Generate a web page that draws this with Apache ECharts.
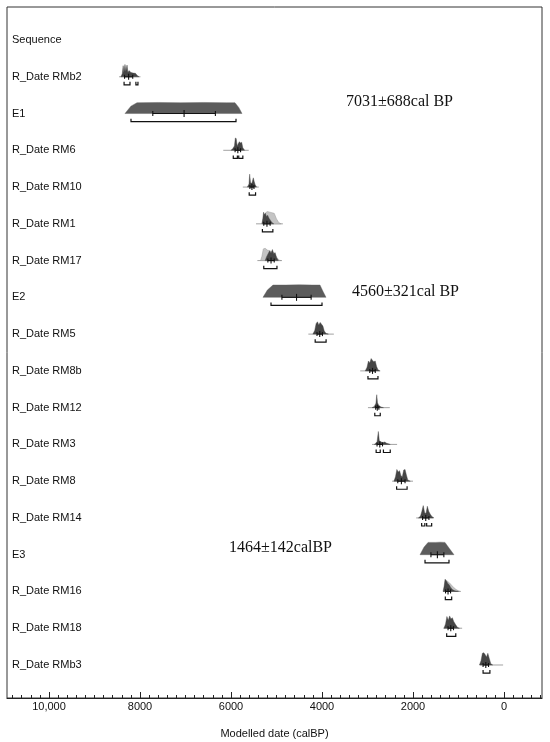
<!DOCTYPE html>
<html><head><meta charset="utf-8">
<script src="https://cdn.jsdelivr.net/npm/echarts@6.0.0/dist/echarts.min.js"></script>
<style>html,body{margin:0;padding:0;background:#fff}#c{width:550px;height:742px}</style>
</head><body><div id="c"></div>
<script>
// ---------- categories / ticks ----------
const rowLabels = ['Sequence','R_Date RMb2','E1','R_Date RM6','R_Date RM10','R_Date RM1','R_Date RM17','E2',
  'R_Date RM5','R_Date RM8b','R_Date RM12','R_Date RM3','R_Date RM8','R_Date RM14','E3','R_Date RM16','R_Date RM18','R_Date RMb3'];
const rowValues = [0,1,2,3,4,5,6,7,8,9,10,11,12,13,14,15,16,17];
const xTickValues = [10000, 8000, 6000, 4000, 2000, 0];
const xTickLabels = ['10,000', '8000', '6000', '4000', '2000', '0'];
const minorTickValues = [];
for (let v = 10800; v >= -800; v -= 200) minorTickValues.push(v);

// ---------- R_Date posteriors [calBP, relative height] ----------
const rmb2Post = [[8420,0],[8390,0.25],[8370,0.9],[8355,0.35],[8330,1.0],[8310,0.45],[8285,0.95],[8265,0.35],[8240,0.5],[8200,0.35],[8150,0.3],[8100,0.28],[8060,0.1],[8020,0]];
const rmb2Tail = [8460, 7990];
const rmb2Stat = [8250, 90];
const rmb2Range = [[8350,8220],[8090,8045]];

const rm6Post = [[6000,0],[5960,0.15],[5925,0.35],[5905,1.0],[5885,0.95],[5865,0.35],[5840,0.55],[5815,0.7],[5790,0.6],[5765,0.65],[5740,0.2],[5700,0]];
const rm6Tail = [6170, 5610];
const rm6Stat = [5850, 60];
const rm6Range = [[5950,5860],[5830,5740]];

const rm10Post = [[5640,0],[5605,0.25],[5590,1.05],[5570,0.35],[5540,0.3],[5510,0.75],[5490,0.45],[5470,0.2],[5440,0]];
const rm10Tail = [5740, 5390];
const rm10Stat = [5540, 45];
const rm10Range = [[5600,5460]];

const rm1Prior = [[5320,0],[5280,0.5],[5240,0.9],[5200,1.0],[5150,0.95],[5100,0.9],[5050,0.85],[5000,0.4],[4950,0.1],[4900,0]];
const rm1Post = [[5320,0],[5300,0.45],[5285,0.95],[5265,0.75],[5245,0.85],[5220,0.6],[5195,0.7],[5165,0.45],[5135,0.3],[5100,0.1],[5060,0]];
const rm1Tail = [5450, 4860];
const rm1Stat = [5210, 70];
const rm1Range = [[5310,5080]];

const rm17Prior = [[5350,0],[5320,0.35],[5290,0.95],[5250,1.0],[5200,0.85],[5150,0.8],[5100,0.7],[5050,0.6],[5000,0.3],[4950,0.05],[4900,0]];
const rm17Post = [[5250,0],[5220,0.3],[5185,0.55],[5150,0.8],[5120,0.6],[5090,0.9],[5060,0.55],[5030,0.65],[5000,0.25],[4960,0]];
const rm17Tail = [5420, 4880];
const rm17Stat = [5120, 70];
const rm17Range = [[5280,4990]];

const rm5Post = [[4200,0],[4160,0.3],[4130,0.85],[4100,1.0],[4070,0.75],[4040,0.95],[4010,0.8],[3980,0.65],[3950,0.25],[3910,0.05],[3860,0]];
const rm5Tail = [4300, 3740];
const rm5Stat = [4050, 60];
const rm5Range = [[4150,3910]];

const rm8bPost = [[3050,0],[3010,0.3],[2980,0.8],[2950,0.65],[2920,1.0],[2890,0.85],[2860,0.75],[2830,0.8],[2800,0.35],[2770,0.1],[2730,0]];
const rm8bTail = [3160, 2720];
const rm8bStat = [2890, 60];
const rm8bRange = [[2990,2770]];

const rm12Post = [[2900,0],[2850,0.1],[2815,0.35],[2797,1.05],[2780,0.4],[2750,0.15],[2700,0.05],[2650,0]];
const rm12Tail = [2990, 2510];
const rm12Stat = [2785, 35];
const rm12Range = [[2840,2720]];

const rm3Post = [[2850,0],[2790,0.2],[2762,1.05],[2740,0.3],[2700,0.2],[2660,0.15],[2620,0.2],[2580,0.1],[2540,0.05],[2500,0]];
const rm3Tail = [2900, 2350];
const rm3Stat = [2730, 60];
const rm3Range = [[2810,2720],[2650,2500]];

const rm8Post = [[2420,0],[2385,0.35],[2355,0.95],[2325,0.75],[2295,0.85],[2265,0.45],[2235,0.35],[2205,0.9],[2175,0.95],[2145,0.5],[2115,0.1],[2060,0]];
const rm8Tail = [2460, 2000];
const rm8Stat = [2255, 80];
const rm8Range = [[2360,2130]];

const rm14Post = [[1880,0],[1835,0.15],[1805,0.55],[1775,1.0],[1745,0.45],[1715,0.35],[1685,0.95],[1655,0.55],[1620,0.3],[1580,0.1],[1540,0]];
const rm14Tail = [1930, 1560];
const rm14Stat = [1720, 70];
const rm14Range = [[1810,1740],[1700,1590]];

const rm16Prior = [[1320,0],[1290,0.9],[1250,0.85],[1200,0.7],[1150,0.5],[1100,0.3],[1050,0.15],[1000,0.05],[950,0]];
const rm16Post = [[1340,0],[1315,0.45],[1295,1.0],[1265,0.85],[1235,0.65],[1205,0.55],[1175,0.35],[1135,0.15],[1080,0.05],[1000,0]];
const rm16Tail = [1340, 960];
const rm16Stat = [1230, 55];
const rm16Range = [[1290,1150]];

const rm18Post = [[1320,0],[1285,0.35],[1255,0.95],[1225,0.65],[1195,1.0],[1165,0.75],[1135,0.85],[1105,0.55],[1065,0.3],[1020,0.05],[980,0]];
const rm18Tail = [1330, 920];
const rm18Stat = [1170, 60];
const rm18Range = [[1260,1060]];

const rmb3Post = [[540,0],[505,0.35],[475,0.95],[445,1.0],[415,0.85],[385,0.65],[355,0.95],[325,0.55],[290,0.1],[250,0]];
const rmb3Tail = [530, 20];
const rmb3Stat = [400, 60];
const rmb3Range = [[460,310]];

// ---------- Boundaries ----------
const e1Shape = [[8330,0],[8200,0.6],[8066,0.88],[7600,0.9],[7100,0.88],[6600,0.9],[6100,0.88],[5912,0.88],[5830,0.5],[5758,0]];
const e1Mean = 7031, e1Sigma = 688;
const e1Range = [[8198,5890]];

const e2Shape = [[5297,0],[5200,0.6],[5077,1.0],[4800,1.0],[4500,1.02],[4200,1.0],[4044,1.0],[3980,0.5],[3912,0]];
const e2Mean = 4560, e2Sigma = 321;
const e2Range = [[5121,4000]];

const e3Shape = [[1846,0],[1760,0.6],[1670,1.0],[1500,1.0],[1400,1.02],[1297,1.0],[1200,0.5],[1099,0]];
const e3Mean = 1464, e3Sigma = 142;
const e3Range = [[1736,1209]];

// ---------- annotations ----------
const annoTexts = ['7031\u00b1688cal BP', '4560\u00b1321cal BP', '1464\u00b1142calBP'];

// ---------- assembly ----------
const H = 0.335;       // height of a full peak, in rows
const BR = 0.22;       // bracket offset below the row line, in rows
const DARK = '#454545';

const rDates = [
  {row:1, post:rmb2Post, tail:rmb2Tail, stat:rmb2Stat, range:rmb2Range},
  {row:3, post:rm6Post, tail:rm6Tail, stat:rm6Stat, range:rm6Range},
  {row:4, post:rm10Post, tail:rm10Tail, stat:rm10Stat, range:rm10Range},
  {row:5, prior:rm1Prior, post:rm1Post, tail:rm1Tail, stat:rm1Stat, range:rm1Range},
  {row:6, prior:rm17Prior, post:rm17Post, tail:rm17Tail, stat:rm17Stat, range:rm17Range},
  {row:8, post:rm5Post, tail:rm5Tail, stat:rm5Stat, range:rm5Range},
  {row:9, post:rm8bPost, tail:rm8bTail, stat:rm8bStat, range:rm8bRange},
  {row:10, post:rm12Post, tail:rm12Tail, stat:rm12Stat, range:rm12Range},
  {row:11, post:rm3Post, tail:rm3Tail, stat:rm3Stat, range:rm3Range},
  {row:12, post:rm8Post, tail:rm8Tail, stat:rm8Stat, range:rm8Range},
  {row:13, post:rm14Post, tail:rm14Tail, stat:rm14Stat, range:rm14Range},
  {row:15, prior:rm16Prior, post:rm16Post, tail:rm16Tail, stat:rm16Stat, range:rm16Range},
  {row:16, post:rm18Post, tail:rm18Tail, stat:rm18Stat, range:rm18Range},
  {row:17, post:rmb3Post, tail:rmb3Tail, stat:rmb3Stat, range:rmb3Range}
];
const bounds = [
  {row:2, shape:e1Shape, mean:e1Mean, sigma:e1Sigma, range:e1Range},
  {row:7, shape:e2Shape, mean:e2Mean, sigma:e2Sigma, range:e2Range},
  {row:14, shape:e3Shape, mean:e3Mean, sigma:e3Sigma, range:e3Range}
];

function custom(row, fn, z) {
  return {type:'custom', coordinateSystem:'cartesian2d', data:[[0,row]], silent:true, z:z||2,
    renderItem: fn, animation:false};
}
function polyFn(points, row, style) {
  return (p, api) => ({type:'polygon', shape:{points: points.map(q => api.coord([q[0], row - q[1]*H]))}, style});
}
function tailFn(tail, row) {
  return (p, api) => {
    const a = api.coord([tail[0], row]), b = api.coord([tail[1], row]);
    return {type:'line', shape:{x1:a[0], y1:a[1], x2:b[0], y2:b[1]}, style:{stroke:'#8a8a8a', lineWidth:0.8}};
  };
}
function rangeFn(range, row) {
  return (p, api) => ({type:'group', children: range.map(r => {
    const a = api.coord([r[0], row + BR]), b = api.coord([r[1], row + BR]);
    return {type:'polyline', shape:{points:[[a[0], a[1]-3],[a[0], a[1]],[b[0], b[1]],[b[0], b[1]-3]]},
      style:{stroke:'#111', lineWidth:1.2, fill:null}};
  })});
}
function errFn(mean, sigma, row, t) {
  return (p, api) => {
    const a = api.coord([mean + sigma, row]), b = api.coord([mean - sigma, row]), m = api.coord([mean, row]);
    const st = {stroke:'#111', lineWidth:1.1};
    return {type:'group', children:[
      {type:'line', shape:{x1:a[0], y1:a[1], x2:b[0], y2:b[1]}, style:st},
      {type:'line', shape:{x1:a[0], y1:a[1]-t, x2:a[0], y2:a[1]+t}, style:st},
      {type:'line', shape:{x1:b[0], y1:b[1]-t, x2:b[0], y2:b[1]+t}, style:st},
      {type:'line', shape:{x1:m[0], y1:m[1]-t-1, x2:m[0], y2:m[1]+t+1}, style:st}
    ]};
  };
}

const series = [];
rDates.forEach(d => {
  series.push(custom(d.row, tailFn(d.tail, d.row), 2));
  if (d.prior) series.push(custom(d.row, polyFn(d.prior, d.row, {fill:'#c4c4c4', stroke:'#9a9a9a', lineWidth:0.5}), 3));
  series.push(custom(d.row, polyFn(d.post, d.row, {fill:DARK, stroke:DARK, lineWidth:0.4}), 4));
  series.push(custom(d.row, errFn(d.stat[0], d.stat[1], d.row, 2), 5));
  series.push(custom(d.row, rangeFn(d.range, d.row), 5));
});
bounds.forEach(b => {
  series.push(custom(b.row, polyFn(b.shape, b.row, {fill:'#5c5c5c', stroke:'#5c5c5c', lineWidth:0.4}), 3));
  series.push(custom(b.row, errFn(b.mean, b.sigma, b.row, 2.5), 5));
  series.push(custom(b.row, rangeFn(b.range, b.row), 5));
});

const font = "'Liberation Sans', Arial, sans-serif";
const serif = "'Liberation Serif', 'Times New Roman', serif";
const chart = echarts.init(document.getElementById('c'), null, {renderer:'canvas'});
chart.setOption({
  animation:false,
  backgroundColor:'#fff',
  grid:{left:7, right:8, top:7, bottom:44, show:true, borderColor:'#333', borderWidth:1,
    containLabel:false, outerBoundsMode:'none'},
  xAxis:[{
    type:'value', inverse:true, min:-835, max:10923, position:'bottom',
    axisLine:{show:true, onZero:false, lineStyle:{color:'#222', width:1.2}},
    axisTick:{show:true, inside:true, length:6, customValues:xTickValues, lineStyle:{color:'#222'}},
    axisLabel:{customValues:xTickValues, margin:3, fontSize:11, color:'#111', fontFamily:font,
      formatter: v => xTickLabels[xTickValues.indexOf(v)]},
    splitLine:{show:false},
    name:'Modelled date (calBP)', nameLocation:'middle', nameGap:30,
    nameTextStyle:{fontSize:11, color:'#111', fontFamily:font}
  },{
    type:'value', inverse:true, min:-835, max:10923, position:'bottom',
    axisLine:{show:false, onZero:false},
    axisTick:{show:true, inside:true, length:3, customValues:minorTickValues, lineStyle:{color:'#222'}},
    axisLabel:{show:false}, splitLine:{show:false}
  }],
  yAxis:{
    type:'value', inverse:true, min:-0.898, max:17.898,
    axisLine:{show:false, onZero:false}, axisTick:{show:false}, splitLine:{show:false},
    axisLabel:{customValues:rowValues, inside:true, margin:5, align:'left', fontSize:11, color:'#111', fontFamily:font,
      formatter: v => rowLabels[v]}
  },
  graphic:[
    {type:'text', left:346, top:94, style:{text:annoTexts[0], font:'16px ' + serif, fill:'#111'}},
    {type:'text', left:352, top:284, style:{text:annoTexts[1], font:'16px ' + serif, fill:'#111'}},
    {type:'text', left:229, top:540, style:{text:annoTexts[2], font:'16px ' + serif, fill:'#111'}}
  ],
  series: series
});
</script></body></html>
